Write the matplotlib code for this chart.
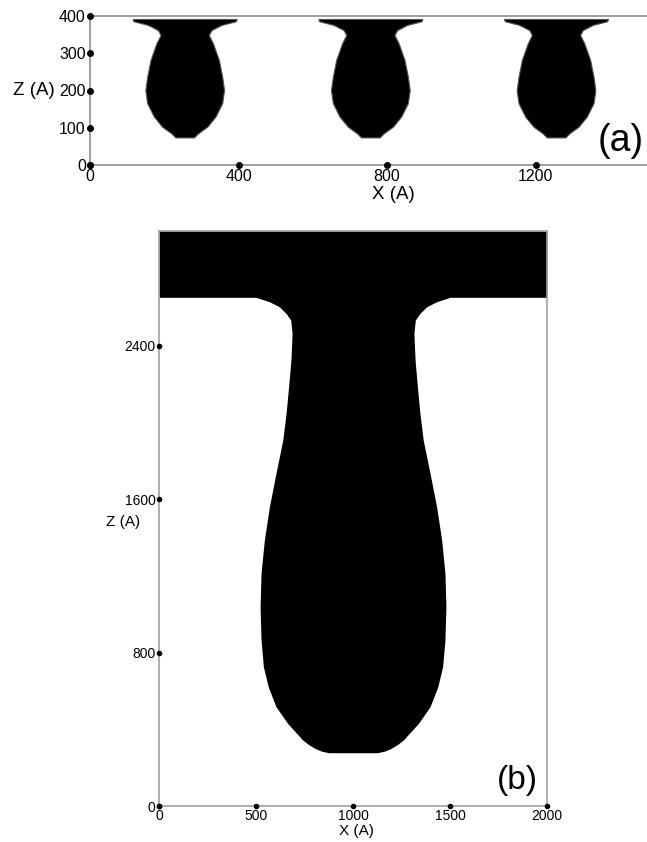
import matplotlib.pyplot as plt

plt.rcParams['font.family'] = ['Liberation Sans', 'DejaVu Sans']

# panel (a): three drops on a periodic grid, half-width profile of one drop (A)
a_centers = [255, 755, 1255]
a_z = [392, 386, 376, 362, 349, 327, 282, 237, 201, 166, 130, 103, 85, 74]
a_hw = [140, 138, 99, 72, 65, 76, 92, 101, 106, 101, 83, 61, 36, 25]
a_xticks = [0, 400, 800, 1200]
a_yticks = [0, 100, 200, 300, 400]

# panel (b): one large drop hanging from the top film, centre at x=1000
b_center = 1000
b_z = [3000, 2654, 2654, 2631, 2605, 2570, 2535, 2466, 2327, 2187, 2048, 1909,
       1736, 1561, 1388, 1214, 1040, 866, 727, 622, 518, 431, 344, 320, 300, 286, 278]
b_hw = [1000, 1000, 500, 431, 380, 345, 321, 314, 320, 332, 345, 362,
        397, 431, 457, 474, 479, 474, 462, 437, 397, 337, 259, 228, 195, 162, 125]
b_xticks = [0, 500, 1000, 1500, 2000]
b_yticks = [0, 800, 1600, 2400]

spine_col = '#8f8f8f'

fig = plt.figure(figsize=(6.47, 8.42), dpi=100)
ax1 = fig.add_axes([90 / 647, 1 - 165 / 842, 557 / 647, 149 / 842])
ax2 = fig.add_axes([159 / 647, 1 - 806 / 842, 388 / 647, 575 / 842])

# (a)
for c in a_centers:
    left = [c - h for h in a_hw]
    right = [c + h for h in a_hw]
    ax1.fill_betweenx(a_z, left, right, color='black', lw=0.8, edgecolor='#555555')
ax1.set_xlim(0, 1500)
ax1.set_ylim(0, 400)
ax1.set_xticks(a_xticks)
ax1.set_yticks(a_yticks)
ax1.tick_params(length=0, labelsize=11.5, pad=3)
ax1.plot(a_xticks, [0] * len(a_xticks), 'o', ms=4, color='black', clip_on=False, zorder=5)
ax1.plot([0] * len(a_yticks), a_yticks, 'o', ms=4, color='black', clip_on=False, zorder=5)
for s in ['left', 'top', 'bottom']:
    ax1.spines[s].set_color(spine_col)
    ax1.spines[s].set_linewidth(1.2)
ax1.spines['right'].set_visible(False)
ax1.set_ylabel('Z (A)', rotation=0, fontsize=13.5, ha='center', va='center')
ax1.yaxis.set_label_coords(-0.100, 0.503)
ax1.set_xlabel('X (A)', fontsize=13.5, ha='center', va='center')
ax1.xaxis.set_label_coords(0.545, -0.201)
ax1.text(0.953, 0.161, '(a)', transform=ax1.transAxes, fontsize=27,
         ha='center', va='center')

# (b)
left = [b_center - h for h in b_hw]
right = [b_center + h for h in b_hw]
ax2.fill_betweenx(b_z, left, right, color='black', lw=0)
ax2.set_xlim(0, 2000)
ax2.set_ylim(0, 3000)
ax2.set_xticks(b_xticks)
ax2.set_yticks(b_yticks)
ax2.tick_params(length=0, labelsize=10, pad=2.5)
ax2.plot(b_xticks, [0] * len(b_xticks), 'o', ms=3, color='black', clip_on=False, zorder=5)
ax2.plot([0] * len(b_yticks), b_yticks, 'o', ms=3, color='black', clip_on=False, zorder=5)
for s in ax2.spines.values():
    s.set_color('#a0a0a0')
    s.set_linewidth(1.2)
ax2.set_ylabel('Z (A)', rotation=0, fontsize=11, ha='center', va='center')
ax2.yaxis.set_label_coords(-0.093, 0.494)
ax2.set_xlabel('X (A)', fontsize=11, ha='center', va='center')
ax2.xaxis.set_label_coords(0.508, -0.0435)
ax2.text(0.923, 0.0435, '(b)', transform=ax2.transAxes, fontsize=24,
         ha='center', va='center')

fig.savefig('out.png', dpi=100)
